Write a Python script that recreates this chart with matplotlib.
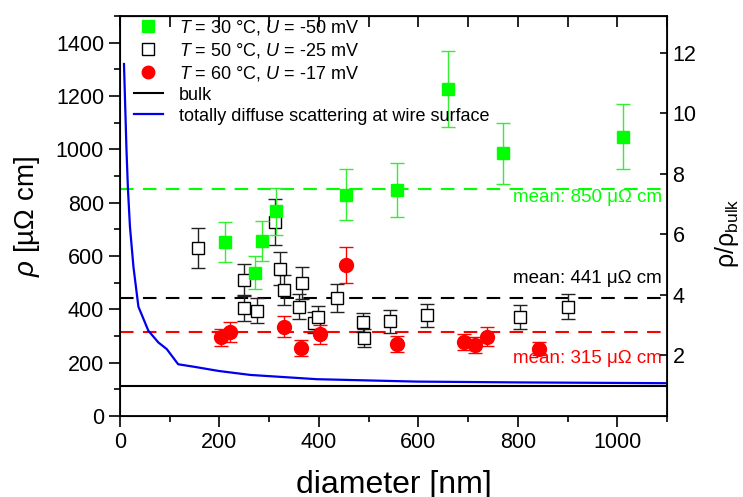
import matplotlib
matplotlib.use("Agg")
import matplotlib.pyplot as plt
from matplotlib.lines import Line2D
import numpy as np

plt.rcParams['font.family'] = ['Liberation Sans', 'DejaVu Sans']
plt.rcParams['mathtext.fontset'] = 'custom'
plt.rcParams['mathtext.rm'] = 'Liberation Sans'
plt.rcParams['mathtext.it'] = 'Liberation Sans:italic'
plt.rcParams['mathtext.bf'] = 'Liberation Sans:bold'

# ---- data ----
# T = 30 °C, U = -50 mV
d30 = [211, 272, 286, 313, 455, 557, 659, 771, 1011]
r30 = [652, 538, 656, 768, 830, 847, 1226, 985, 1047]
e30 = [75, 62, 75, 88, 95, 100, 143, 115, 122]

# T = 50 °C, U = -25 mV
d50 = [156, 249, 249, 276, 311, 321, 329, 360, 367, 391, 398, 436, 488, 490, 543, 618, 805, 901]
r50 = [630, 511, 404, 395, 728, 552, 473, 410, 500, 350, 370, 443, 351, 292, 355, 377, 373, 410]
e50 = [74, 58, 47, 46, 86, 62, 55, 48, 60, 40, 42, 53, 35, 35, 42, 43, 45, 48]

# T = 60 °C, U = -17 mV
d60 = [203, 221, 329, 363, 402, 455, 557, 691, 714, 738, 842]
r60 = [295, 316, 335, 256, 306, 566, 270, 279, 265, 298, 253]
e60 = [33, 38, 39, 30, 37, 66, 30, 30, 30, 35, 25]

# bulk resistivity
rho_bulk = 113.5

# totally diffuse scattering curve
d_fs = [8, 13, 16, 20, 27, 37, 57, 77, 94, 117, 151, 198, 262, 396, 597, 800, 1100]
r_fs = [1320, 1000, 850, 710, 560, 410, 320, 276, 251, 194, 184, 169, 154, 138, 129, 126, 123]

means = [850, 441, 315]
mean_colors = ['#00ff00', 'black', '#ff0000']
mean_labels = ['mean: 850 μΩ cm', 'mean: 441 μΩ cm', 'mean: 315 μΩ cm']
mean_text_y = [821, 516, 217]

legend_labels = ['$T$ = 30 °C, $U$ = -50 mV', '$T$ = 50 °C, $U$ = -25 mV',
                 '$T$ = 60 °C, $U$ = -17 mV', 'bulk',
                 'totally diffuse scattering at wire surface']

# ---- figure ----
fig = plt.figure(figsize=(7.43, 4.97), dpi=100)
ax = fig.add_axes([120/743, 81/497, 547/743, 400/497])

for m, c in zip(means, mean_colors):
    ax.axhline(m, color=c, lw=1.5, ls=(0, (6.5, 4.5)), zorder=1)

ax.axhline(rho_bulk, color='black', lw=1.5, zorder=1)
ax.plot(d_fs, r_fs, color='#0000ee', lw=1.6, zorder=1.5)

ax.errorbar(d50, r50, yerr=e50, fmt='s', ms=9, mfc='white', mec='black', mew=1.0,
            ecolor='#222222', elinewidth=1.0, capsize=5, capthick=1.0, zorder=2)
ax.errorbar(d30, r30, yerr=e30, fmt='s', ms=9, mfc='#00ff00', mec='#00ff00', mew=1.0,
            ecolor='#33ee33', elinewidth=1.0, capsize=5, capthick=1.0, zorder=3)
ax.errorbar(d60, r60, yerr=e60, fmt='o', ms=10, mfc='#ff0000', mec='#ff0000', mew=1.0,
            ecolor='#ff0000', elinewidth=1.0, capsize=5, capthick=1.0, zorder=4)

for lab, c, ty in zip(mean_labels, mean_colors, mean_text_y):
    ax.text(1090, ty, lab, color=c, fontsize=13.5, ha='right', va='center', zorder=5)

ax.set_xlim(0, 1100)
ax.set_ylim(0, 1500)
ax.set_xticks(np.arange(0, 1001, 200))
ax.set_xticks(np.arange(0, 1101, 100), minor=True)
ax.set_yticks(np.arange(0, 1401, 200))
ax.set_yticks(np.arange(0, 1501, 100), minor=True)
ax.tick_params(axis='both', which='major', direction='out', length=8, width=1.2,
               labelsize=15.5, right=False, top=False)
ax.tick_params(axis='both', which='minor', direction='out', length=4.5, width=1.2,
               right=False, top=False)
for s in ax.spines.values():
    s.set_linewidth(1.3)

ax.set_xlabel('diameter [nm]', fontsize=23, labelpad=12)
ax.set_ylabel('$\\rho$ [µΩ cm]', fontsize=20, labelpad=10)

# top axis ticks (inward, no labels)
top = ax.secondary_xaxis('top')
top.set_xticks(np.arange(0, 1101, 100))
top.tick_params(direction='in', length=8, width=1.2, labeltop=False)

# right axis: ratio to bulk
ax2 = ax.twinx()
ax2.set_ylim(0, 1500 / rho_bulk)
ax2.set_yticks(np.arange(2, 13, 2))
ax2.tick_params(axis='y', direction='in', length=5, width=1.2, labelsize=15.5, pad=4)
ax2.set_ylabel('ρ/ρ$_{\\mathrm{bulk}}$', fontsize=18)
ax2.yaxis.set_label_coords(1.084, 0.4575)

handles = [
    Line2D([], [], ls='none', marker='s', ms=9, mfc='#00ff00', mec='#00ff00'),
    Line2D([], [], ls='none', marker='s', ms=8, mfc='white', mec='black', mew=1.0),
    Line2D([], [], ls='none', marker='o', ms=9, mfc='#ff0000', mec='#ff0000'),
    Line2D([], [], color='black', lw=1.5),
    Line2D([], [], color='#0000ee', lw=1.6),
]
leg = ax.legend(handles, legend_labels, loc='upper left',
                bbox_to_anchor=(0.022, 1.0), frameon=False, fontsize=13,
                labelspacing=0.22, handlelength=1.6, handletextpad=0.9,
                borderaxespad=0.0, borderpad=0.1)

fig.savefig('out.png', dpi=100)
